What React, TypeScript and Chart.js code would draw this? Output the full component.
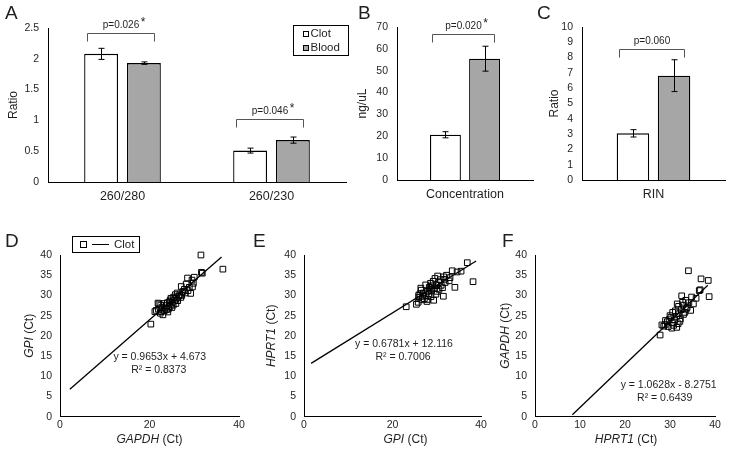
import React, { useEffect, useRef } from "react";
import { Chart, registerables } from "chart.js";
Chart.register(...registerables);

const FONT = '"Liberation Sans", Arial, Helvetica, sans-serif';
const TEXT = "#1f1f1f";
const GRAY = "#a6a6a6";

// ---------- Panel A: purity ratios ----------
const purityCategories = ["260/280", "260/230"];
const purityClot = [2.08, 0.51];
const purityClotSE = [0.09, 0.04];
const purityBlood = [1.93, 0.68];
const purityBloodSE = [0.02, 0.05];
const purityP = ["p=0.026", "p=0.046"];
const puritySig = [true, true];
const purityTicks = [0, 0.5, 1, 1.5, 2, 2.5];

// ---------- Panel B: concentration ----------
const concCategories = ["Concentration"];
const concClot = [20.7];
const concClotSE = [1.4];
const concBlood = [55.5];
const concBloodSE = [5.7];
const concP = ["p=0.020"];
const concSig = [true];
const concTicks = [0, 10, 20, 30, 40, 50, 60, 70];

// ---------- Panel C: RIN ----------
const rinCategories = ["RIN"];
const rinClot = [3.05];
const rinClotSE = [0.24];
const rinBlood = [6.82];
const rinBloodSE = [1.04];
const rinP = ["p=0.060"];
const rinSig = [false];
const rinTicks = [0, 1, 2, 3, 4, 5, 6, 7, 8, 9, 10];

// ---------- Panel D: GAPDH (x) vs GPI (y) ----------
const dGapdh = [31.5, 36.4, 31.6, 31.8, 30.0, 28.5, 29.5, 29.8, 27.1, 28.2, 28.9, 29.6, 27.5, 28.0, 29.2, 26.2, 26.8, 25.8, 27.2, 25.4, 26.0, 24.8, 25.6, 26.3, 24.5, 25.1, 24.0, 23.2, 22.1, 21.9, 22.5, 23.8, 24.6, 25.3, 22.8, 23.5, 24.3, 22.0, 21.5, 22.6, 23.3, 24.1, 21.2, 23.0, 22.4, 25.0, 26.5, 27.8, 28.6, 20.3, 25.9, 23.9, 24.7, 27.0];
const dGpi = [40.0, 36.5, 35.7, 35.5, 34.5, 34.3, 33.8, 33.0, 32.2, 32.8, 32.0, 32.1, 31.0, 30.6, 30.5, 30.6, 30.2, 30.2, 30.0, 29.6, 29.3, 29.3, 28.8, 28.7, 28.5, 28.3, 28.2, 28.0, 27.9, 28.1, 27.6, 27.5, 27.3, 27.6, 27.1, 26.9, 26.8, 26.6, 26.3, 26.0, 26.2, 25.9, 26.0, 25.2, 25.6, 27.0, 29.8, 31.5, 31.2, 22.9, 28.0, 26.5, 28.9, 29.5];
const dFitX = [2.2, 36.1];
const dFitY = [6.8, 39.5];

// ---------- Panel E: GPI (x) vs HPRT1 (y) ----------
const eGpi = [23.1, 25.4, 36.9, 38.2, 34.1, 35.5, 34.6, 33.5, 32.2, 31.6, 33.0, 30.2, 29.6, 30.8, 31.9, 29.2, 28.6, 30.0, 31.0, 29.5, 28.3, 27.5, 30.5, 28.8, 27.9, 26.5, 27.0, 28.2, 29.8, 26.2, 26.8, 27.6, 28.7, 26.0, 27.2, 25.8, 26.7, 27.8, 29.3, 28.0, 30.1, 31.3, 32.8, 31.5, 26.4, 29.0, 30.4, 31.8, 25.9, 28.5];
const eHprt1 = [27.2, 27.8, 38.1, 33.4, 32.0, 36.0, 35.8, 36.1, 35.0, 34.6, 34.4, 34.8, 34.2, 33.9, 33.2, 33.5, 33.0, 32.6, 32.5, 31.8, 32.0, 32.6, 31.5, 31.3, 31.0, 31.3, 30.6, 30.4, 30.3, 30.4, 29.8, 29.9, 29.7, 29.5, 29.2, 28.3, 28.9, 28.5, 28.8, 29.0, 31.0, 31.9, 33.6, 29.8, 31.8, 32.4, 33.2, 34.0, 30.0, 31.6];
const eFitX = [1.6, 38.9];
const eFitY = [13.2, 38.5];

// ---------- Panel F: HPRT1 (x) vs GAPDH (y) ----------
const fHprt1 = [34.1, 36.9, 38.5, 38.7, 32.6, 27.8, 28.2, 36.7, 36.5, 35.8, 34.8, 33.5, 34.2, 35.2, 32.9, 33.8, 31.9, 32.5, 34.6, 31.2, 30.6, 32.0, 33.0, 31.5, 30.2, 29.8, 31.0, 32.3, 29.4, 30.5, 31.8, 28.9, 29.6, 30.4, 31.5, 29.0, 30.0, 33.3, 31.6, 32.8, 30.8, 28.6, 33.6, 32.2];
const fGapdh = [36.1, 34.1, 33.7, 29.7, 29.9, 20.2, 22.7, 31.4, 31.2, 29.3, 29.6, 28.8, 28.2, 27.9, 27.6, 27.0, 27.3, 26.5, 26.3, 26.2, 25.8, 25.5, 25.3, 24.8, 24.6, 24.0, 23.9, 24.2, 23.5, 23.2, 23.0, 22.8, 22.3, 21.9, 22.1, 23.8, 25.0, 25.8, 27.9, 28.3, 22.6, 22.4, 26.6, 23.6];
const fFitX = [8.3, 38.4];
const fFitY = [0.5, 32.5];

const ctTicks = [0, 5, 10, 15, 20, 25, 30, 35, 40];
const ctTicksX20 = [0, 20, 40];
const ctTicksX10 = [0, 10, 20, 30, 40];

type Part = { t: string; i?: boolean };

function drawParts(ctx: CanvasRenderingContext2D, parts: Part[], size: number, cx: number, cy: number) {
  const fontFor = (p: Part) => `${p.i ? "italic " : ""}${size}px ${FONT}`;
  let total = 0;
  parts.forEach((p) => {
    ctx.font = fontFor(p);
    total += ctx.measureText(p.t).width;
  });
  let x = cx - total / 2;
  ctx.textAlign = "left";
  ctx.textBaseline = "middle";
  parts.forEach((p) => {
    ctx.font = fontFor(p);
    ctx.fillText(p.t, x, cy);
    x += ctx.measureText(p.t).width;
  });
}

function decorPlugin(spec: any) {
  return {
    id: "decor",
    afterDatasetsDraw(chart: any) {
      const ctx: CanvasRenderingContext2D = chart.ctx;
      const xs = chart.scales.x;
      const ys = chart.scales.y;
      ctx.save();
      ctx.fillStyle = TEXT;
      // panel letter
      ctx.font = `19px ${FONT}`;
      ctx.textAlign = "left";
      ctx.textBaseline = "middle";
      ctx.fillText(spec.letter.text, spec.letter.x, spec.letter.y);

      // error bars
      if (spec.errors) {
        ctx.strokeStyle = "#000";
        ctx.lineWidth = 1;
        spec.errors.forEach((errs: number[], di: number) => {
          const meta = chart.getDatasetMeta(di);
          const vals = chart.data.datasets[di].data;
          meta.data.forEach((el: any, j: number) => {
            const v = vals[j];
            const e = errs[j];
            const yT = ys.getPixelForValue(v + e);
            const yB = ys.getPixelForValue(v - e);
            const x = Math.round(el.x) + 0.5;
            ctx.beginPath();
            ctx.moveTo(x, yT);
            ctx.lineTo(x, yB);
            ctx.moveTo(x - 3, yT);
            ctx.lineTo(x + 3, yT);
            ctx.moveTo(x - 3, yB);
            ctx.lineTo(x + 3, yB);
            ctx.stroke();
          });
        });
      }

      // significance brackets
      if (spec.brackets) {
        const m0 = chart.getDatasetMeta(0);
        const m1 = chart.getDatasetMeta(1);
        spec.brackets.forEach((b: any, j: number) => {
          const a = m0.data[j];
          const c = m1.data[j];
          const left = Math.round(a.x - 0.42 * a.width) + 0.5;
          const right = Math.round(c.x + 0.3 * c.width) + 0.5;
          const top = Math.round(ys.getPixelForValue(b.level)) + 0.5;
          ctx.strokeStyle = "#555";
          ctx.lineWidth = 1;
          ctx.beginPath();
          ctx.moveTo(left, top + 8);
          ctx.lineTo(left, top);
          ctx.lineTo(right, top);
          ctx.lineTo(right, top + 8);
          ctx.stroke();
          ctx.font = `10px ${FONT}`;
          ctx.textAlign = "center";
          ctx.textBaseline = "middle";
          const cx = (left + right) / 2;
          ctx.fillText(b.text, cx, top - 8);
          if (b.star) {
            const w = ctx.measureText(b.text).width;
            ctx.font = `12px ${FONT}`;
            ctx.textAlign = "left";
            ctx.fillText("*", cx + w / 2 + 1.5, top - 11);
          }
        });
      }

      // legend
      if (spec.legend) {
        const L = spec.legend;
        ctx.strokeStyle = "#000";
        ctx.lineWidth = 1;
        ctx.fillStyle = "#fff";
        ctx.fillRect(L.x, L.y, L.w, L.h);
        ctx.strokeRect(L.x + 0.5, L.y + 0.5, L.w, L.h);
        ctx.font = `${L.size}px ${FONT}`;
        ctx.textAlign = "left";
        ctx.textBaseline = "middle";
        L.items.forEach((it: any) => {
          const cy = L.y + it.dy;
          const s = it.box;
          const bx = Math.round(L.x + it.sx - s / 2) + 0.5;
          const by = Math.round(cy - s / 2) + 0.5;
          ctx.fillStyle = it.fill;
          ctx.fillRect(bx, by, s, s);
          ctx.strokeStyle = "#000";
          ctx.strokeRect(bx, by, s, s);
          if (it.line) {
            ctx.beginPath();
            ctx.moveTo(L.x + it.line[0], Math.round(cy) + 0.5);
            ctx.lineTo(L.x + it.line[1], Math.round(cy) + 0.5);
            ctx.stroke();
          }
          ctx.fillStyle = TEXT;
          ctx.fillText(it.label, L.x + it.tx, cy + 0.5);
        });
      }

      // equation
      if (spec.equation) {
        const E = spec.equation;
        ctx.fillStyle = TEXT;
        ctx.font = `10.5px ${FONT}`;
        ctx.textAlign = "center";
        ctx.textBaseline = "middle";
        const px = xs.getPixelForValue(E.x);
        const py = ys.getPixelForValue(E.y);
        ctx.fillText(E.lines[0], px, py);
        ctx.fillText(E.lines[1], px + E.dx2, py + 12.7);
      }

      // mixed-style axis titles
      if (spec.xTitle) {
        const ca = chart.chartArea;
        ctx.fillStyle = TEXT;
        drawParts(ctx, spec.xTitle.parts, 12, (ca.left + ca.right) / 2 + spec.xTitle.dx, spec.xTitle.y);
      }
      if (spec.yTitle) {
        const ca = chart.chartArea;
        ctx.save();
        ctx.translate(spec.yTitle.x, (ca.top + ca.bottom) / 2);
        ctx.rotate(-Math.PI / 2);
        ctx.fillStyle = TEXT;
        drawParts(ctx, spec.yTitle.parts, 12, 0, 0);
        ctx.restore();
      }
      ctx.restore();
    },
  };
}

function fixedTicks(arr: number[]) {
  return (s: any) => {
    s.ticks = arr.map((v) => ({ value: v }));
  };
}

function barConfig(p: any) {
  const { box, area } = p;
  return {
    type: "bar",
    data: {
      labels: p.labels,
      datasets: [
        { label: "Clot", data: p.clot, backgroundColor: "#ffffff", borderColor: "#000", borderWidth: 1.3, barPercentage: 0.79, categoryPercentage: 0.575 },
        { label: "Blood", data: p.blood, backgroundColor: GRAY, borderColor: "#000", borderWidth: 1.3, barPercentage: 0.79, categoryPercentage: 0.575 },
      ],
    },
    options: {
      animation: false,
      responsive: false,
      events: [],
      layout: { padding: { left: 0, top: area.t - box.y, right: box.x + box.w - area.r, bottom: 0 } },
      plugins: { legend: { display: false }, tooltip: { enabled: false } },
      scales: {
        x: {
          grid: { display: false, drawTicks: false },
          border: { display: true, color: "#000", width: 1 },
          ticks: { padding: 7, color: TEXT, font: { family: FONT, size: 12.5 } },
          afterFit: (s: any) => { s.height = box.y + box.h - area.b; },
        },
        y: {
          min: p.ticks[0],
          max: p.ticks[p.ticks.length - 1],
          afterBuildTicks: fixedTicks(p.ticks),
          grid: { display: false, drawTicks: false },
          border: { display: true, color: "#000", width: 1 },
          ticks: { padding: 9, autoSkip: false, color: TEXT, font: { family: FONT, size: 10.5 }, callback: (v: number) => String(Math.round(v * 10) / 10) },
          title: { display: true, text: p.yTitle, color: TEXT, font: { family: FONT, size: 12 }, padding: { top: p.yTitleX - 7.2, bottom: 0 } },
          afterFit: (s: any) => { s.width = area.l - box.x; },
        },
      },
    },
    plugins: [decorPlugin(p.decor)],
  };
}

function scatterConfig(p: any) {
  const { box, area } = p;
  return {
    type: "scatter",
    data: {
      datasets: [
        {
          label: "Clot",
          data: p.xs.map((x: number, i: number) => ({ x, y: p.ys[i] })),
          pointStyle: "rect",
          pointRadius: 4,
          backgroundColor: "rgba(0,0,0,0)",
          borderColor: "#000",
          borderWidth: 1,
          clip: false,
        },
        {
          type: "line",
          label: "fit",
          data: p.fitX.map((x: number, i: number) => ({ x, y: p.fitY[i] })),
          borderColor: "#000",
          borderWidth: 1.3,
          pointRadius: 0,
          fill: false,
          showLine: true,
          clip: false,
        },
      ],
    },
    options: {
      animation: false,
      responsive: false,
      events: [],
      layout: { padding: { left: 0, top: area.t - box.y, right: box.x + box.w - area.r, bottom: 0 } },
      plugins: { legend: { display: false }, tooltip: { enabled: false } },
      scales: {
        x: {
          type: "linear",
          min: 0,
          max: 40,
          afterBuildTicks: fixedTicks(p.xTicks),
          grid: { display: false, drawTicks: false },
          border: { display: true, color: "#000", width: 1 },
          ticks: { padding: 2, autoSkip: false, maxRotation: 0, color: TEXT, font: { family: FONT, size: 10.5 } },
          afterFit: (s: any) => { s.height = box.y + box.h - area.b; },
        },
        y: {
          type: "linear",
          min: 0,
          max: 40,
          afterBuildTicks: fixedTicks(ctTicks),
          grid: { display: false, drawTicks: false },
          border: { display: true, color: "#000", width: 1 },
          ticks: { padding: 8, autoSkip: false, color: TEXT, font: { family: FONT, size: 10.5 } },
          afterFit: (s: any) => { s.width = area.l - box.x; },
        },
      },
    },
    plugins: [decorPlugin(p.decor)],
  };
}

const panels = [
  {
    kind: "bar",
    box: { x: 0, y: 0, w: 350, h: 215 },
    area: { l: 48, t: 28, r: 346, b: 182 },
    labels: purityCategories,
    clot: purityClot,
    blood: purityBlood,
    ticks: purityTicks,
    yTitle: "Ratio",
    yTitleX: 14,
    decor: {
      letter: { text: "A", x: 5, y: 14 },
      errors: [purityClotSE, purityBloodSE],
      brackets: purityP.map((t, i) => ({ text: t, star: puritySig[i], level: [2.42, 1.02][i] })),
      legend: {
        x: 293, y: 25, w: 55, h: 30, size: 11.5,
        items: [
          { label: "Clot", fill: "#ffffff", sx: 12, dy: 8.7, box: 5, tx: 17.5 },
          { label: "Blood", fill: GRAY, sx: 12, dy: 22.3, box: 5, tx: 17.5 },
        ],
      },
    },
  },
  {
    kind: "bar",
    box: { x: 350, y: 0, w: 190, h: 215 },
    area: { l: 397, t: 27, r: 533, b: 180 },
    labels: concCategories,
    clot: concClot,
    blood: concBlood,
    ticks: concTicks,
    yTitle: "ng/uL",
    yTitleX: 13,
    decor: {
      letter: { text: "B", x: 8, y: 14 },
      errors: [concClotSE, concBloodSE],
      brackets: concP.map((t, i) => ({ text: t, star: concSig[i], level: 66.9 })),
    },
  },
  {
    kind: "bar",
    box: { x: 530, y: 0, w: 199, h: 215 },
    area: { l: 582, t: 27, r: 725, b: 180 },
    labels: rinCategories,
    clot: rinClot,
    blood: rinBlood,
    ticks: rinTicks,
    yTitle: "Ratio",
    yTitleX: 25,
    decor: {
      letter: { text: "C", x: 7, y: 14 },
      errors: [rinClotSE, rinBloodSE],
      brackets: rinP.map((t, i) => ({ text: t, star: rinSig[i], level: 8.54 })),
    },
  },
  {
    kind: "scatter",
    box: { x: 0, y: 220, w: 250, h: 236 },
    area: { l: 60, t: 255, r: 239, b: 416.7 },
    xs: dGapdh,
    ys: dGpi,
    fitX: dFitX,
    fitY: dFitY,
    xTicks: ctTicksX20,
    decor: {
      letter: { text: "D", x: 5, y: 22 },
      legend: {
        x: 72, y: 16, w: 67, h: 16, size: 11.5,
        items: [{ label: "Clot", fill: "rgba(0,0,0,0)", sx: 11, dy: 8, box: 6, tx: 42, line: [20, 37] }],
      },
      equation: { x: 22.3, y: 14.7, dx2: -1, lines: ["y = 0.9653x + 4.673", "R² = 0.8373"] },
      xTitle: { parts: [{ t: "GAPDH", i: true }, { t: " (Ct)" }], dx: 0, y: 220 },
      yTitle: { parts: [{ t: "GPI", i: true }, { t: " (Ct)" }], x: 30 },
    },
  },
  {
    kind: "scatter",
    box: { x: 250, y: 220, w: 240, h: 236 },
    area: { l: 304, t: 255, r: 481, b: 416.7 },
    xs: eGpi,
    ys: eHprt1,
    fitX: eFitX,
    fitY: eFitY,
    xTicks: ctTicksX20,
    decor: {
      letter: { text: "E", x: 3, y: 22 },
      equation: { x: 22.6, y: 18.0, dx2: -1, lines: ["y = 0.6781x + 12.116", "R² = 0.7006"] },
      xTitle: { parts: [{ t: "GPI", i: true }, { t: " (Ct)" }], dx: 13, y: 220 },
      yTitle: { parts: [{ t: "HPRT1", i: true }, { t: " (Ct)" }], x: 22 },
    },
  },
  {
    kind: "scatter",
    box: { x: 490, y: 220, w: 239, h: 236 },
    area: { l: 535, t: 255, r: 715, b: 416.7 },
    xs: fHprt1,
    ys: fGapdh,
    fitX: fFitX,
    fitY: fFitY,
    xTicks: ctTicksX10,
    decor: {
      letter: { text: "F", x: 12, y: 22 },
      equation: { x: 29.7, y: 7.7, dx2: -4, lines: ["y = 1.0628x - 8.2751", "R² = 0.6439"] },
      xTitle: { parts: [{ t: "HPRT1", i: true }, { t: " (Ct)" }], dx: 1, y: 220 },
      yTitle: { parts: [{ t: "GAPDH", i: true }, { t: " (Ct)" }], x: 16 },
    },
  },
];

function Panel({ spec }: { spec: any }) {
  const ref = useRef<HTMLCanvasElement>(null);
  useEffect(() => {
    const cfg: any = spec.kind === "bar" ? barConfig(spec) : scatterConfig(spec);
    const chart = new Chart(ref.current as HTMLCanvasElement, cfg);
    return () => chart.destroy();
  }, [spec]);
  const { box } = spec;
  return (
    <canvas
      ref={ref}
      width={box.w}
      height={box.h}
      style={{ position: "absolute", left: box.x, top: box.y, width: box.w, height: box.h }}
    />
  );
}

export default function App() {
  return (
    <div style={{ position: "absolute", left: 0, top: 0, width: 729, height: 456, background: "#fff", overflow: "hidden" }}>
      {panels.map((p, i) => (
        <Panel key={i} spec={p} />
      ))}
    </div>
  );
}
